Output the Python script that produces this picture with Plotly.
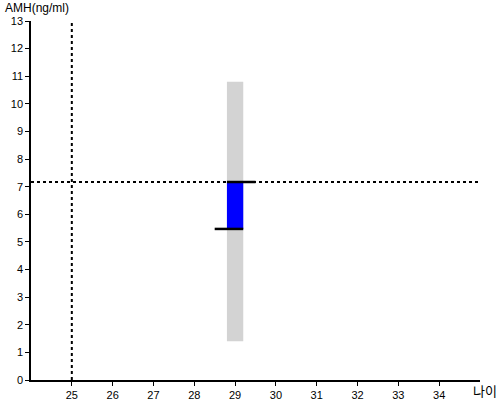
import plotly.graph_objects as go

# --- data ---
age = 29
range_low, range_high = 1.4, 10.8
amh_low, amh_high = 5.47, 7.17
ref_age = 25
ref_amh = 7.17
x_ticks = list(range(25, 35))
y_ticks = list(range(0, 14))

fig = go.Figure()

# grey range bar
fig.add_trace(go.Bar(x=[age], y=[range_high - range_low], base=[range_low],
                     width=0.4, marker=dict(color="#d3d3d3", line=dict(width=0)),
                     hoverinfo="skip"))
# blue bar
fig.add_trace(go.Bar(x=[age], y=[amh_high - amh_low], base=[amh_low],
                     width=0.4, marker=dict(color="#0000ff", line=dict(width=0)),
                     hoverinfo="skip"))

# reference dotted lines
fig.add_trace(go.Scatter(x=[24, 35], y=[ref_amh, ref_amh], mode="lines",
                         line=dict(color="black", width=2, dash="dot")))
fig.add_trace(go.Scatter(x=[ref_age, ref_age], y=[0, 13], mode="lines",
                         line=dict(color="black", width=2, dash="dot")))

# black caps
fig.add_trace(go.Scatter(x=[age - 0.2, age + 0.5], y=[amh_high, amh_high], mode="lines",
                         line=dict(color="black", width=2.5)))
fig.add_trace(go.Scatter(x=[age - 0.5, age + 0.2], y=[amh_low, amh_low], mode="lines",
                         line=dict(color="black", width=2.5)))

font = dict(family="Arial, Liberation Sans, sans-serif", size=11, color="black")

fig.update_layout(
    width=500, height=400,
    margin=dict(l=31, r=20, t=21, b=20),
    paper_bgcolor="white", plot_bgcolor="white",
    showlegend=False, barmode="overlay",
    font=font,
    xaxis=dict(range=[24, 35], tickvals=x_ticks, showgrid=False, zeroline=False,
               showline=True, linecolor="black", linewidth=1.5, automargin=False,
               ticks="outside", ticklen=4, tickcolor="black"),
    yaxis=dict(range=[0, 13], tickvals=y_ticks, showgrid=False, zeroline=False,
               showline=True, linecolor="black", linewidth=1.5, automargin=False,
               ticks="outside", ticklen=4, tickcolor="black"),
    annotations=[
        dict(text="AMH(ng/ml)", x=0, y=1, xref="paper", yref="paper",
             xanchor="left", yanchor="bottom", xshift=-28, yshift=4, showarrow=False,
             font=dict(family="Arial, Liberation Sans, sans-serif", size=12)),
        dict(text="나이", x=1, y=0, xref="paper", yref="paper",
             xanchor="right", yanchor="top", xshift=19, yshift=1, showarrow=False,
             font=dict(family="Noto Sans CJK KR, sans-serif", size=13)),
    ],
)

# page body has a default 8px margin; drop it so the figure fills the window
fig.write_html("out.html", config={"displayModeBar": False},
               post_script="document.body.style.margin='0';")
